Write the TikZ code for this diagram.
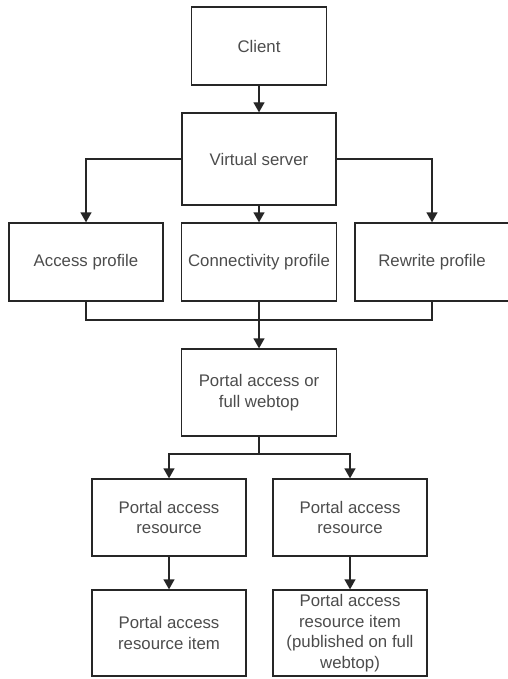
\documentclass[tikz,border=0pt]{standalone}
\usepackage{fontspec}
\setmainfont{Liberation Sans}
\usetikzlibrary{arrows.meta}

\begin{document}
\begin{tikzpicture}[x=1pt,y=-1pt,
	box/.style={draw=black!85,line width=1.3pt,text=black!70,align=center,inner sep=0pt,
		minimum width=154pt,font=\fontsize{16.8}{20.6}\selectfont},
	link/.style={draw=black!85,line width=1.3pt},
	arr/.style={link,-{Triangle[width=11pt,length=10pt]}}]
	\useasboundingbox (0,0) rectangle (507,679);

	\node[box,minimum width=135pt,minimum height=78pt] (client) at (259,46) {Client};
	\node[box,minimum height=92pt] (vs) at (259,159) {Virtual server};

	\node[box,minimum height=78pt] (access) at (86,262) {Access profile};
	\node[box,minimum width=155pt,minimum height=78pt] (conn) at (259,262) {Connectivity profile};
	\node[box,minimum height=78pt] (rewrite) at (432,262) {Rewrite profile};

	\node[box,minimum width=155pt,minimum height=87pt] (webtop) at (259,392.5) {Portal access or\\full webtop};

	\node[box,minimum height=77pt] (resl) at (169,517.5) {Portal access\\resource};
	\node[box,minimum height=77pt] (resr) at (350,517.5) {Portal access\\resource};
	\node[box,minimum height=86pt] (iteml) at (169,633) {Portal access\\resource item};
	\node[box,minimum height=86pt] (itemr) at (350,633) {Portal access\\resource item\\(published on full\\webtop)};

	\coordinate (merge) at (259,320);
	\coordinate (split) at (259,454);

	% top part
	\draw[arr] (client) -- (vs);
	\draw[arr] (vs.west) -| (access.north);
	\draw[arr] (vs.south) -- (conn.north);
	\draw[arr] (vs.east) -| (rewrite.north);

	% profiles join again
	\draw[link] (access.south) |- (merge) -| (rewrite.south);
	\draw[arr] (merge) -- (webtop.north);
	\draw[link] (conn.south) -- (merge);

	% resources
	\draw[link] (webtop.south) -- (split);
	\draw[arr] (split) -| (resl.north);
	\draw[arr] (split) -| (resr.north);
	\draw[arr] (resl) -- (iteml);
	\draw[arr] (resr) -- (itemr);
\end{tikzpicture}
\end{document}
